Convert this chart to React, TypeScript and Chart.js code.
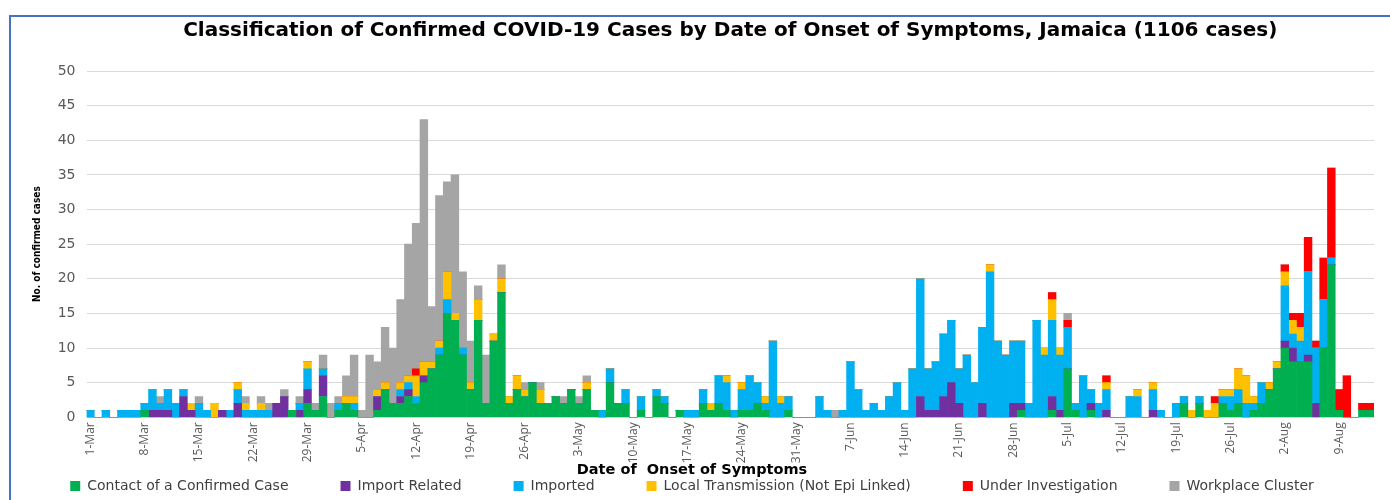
import { useEffect, useRef } from "react";
import { Chart, registerables } from "chart.js";

Chart.register(...registerables);

const DATES = [
  "1-Mar","2-Mar","3-Mar","4-Mar","5-Mar","6-Mar","7-Mar","8-Mar","9-Mar","10-Mar",
  "11-Mar","12-Mar","13-Mar","14-Mar","15-Mar","16-Mar","17-Mar","18-Mar","19-Mar","20-Mar",
  "21-Mar","22-Mar","23-Mar","24-Mar","25-Mar","26-Mar","27-Mar","28-Mar","29-Mar","30-Mar",
  "31-Mar","1-Apr","2-Apr","3-Apr","4-Apr","5-Apr","6-Apr","7-Apr","8-Apr","9-Apr",
  "10-Apr","11-Apr","12-Apr","13-Apr","14-Apr","15-Apr","16-Apr","17-Apr","18-Apr","19-Apr",
  "20-Apr","21-Apr","22-Apr","23-Apr","24-Apr","25-Apr","26-Apr","27-Apr","28-Apr","29-Apr",
  "30-Apr","1-May","2-May","3-May","4-May","5-May","6-May","7-May","8-May","9-May",
  "10-May","11-May","12-May","13-May","14-May","15-May","16-May","17-May","18-May","19-May",
  "20-May","21-May","22-May","23-May","24-May","25-May","26-May","27-May","28-May","29-May",
  "30-May","31-May","1-Jun","2-Jun","3-Jun","4-Jun","5-Jun","6-Jun","7-Jun","8-Jun",
  "9-Jun","10-Jun","11-Jun","12-Jun","13-Jun","14-Jun","15-Jun","16-Jun","17-Jun","18-Jun",
  "19-Jun","20-Jun","21-Jun","22-Jun","23-Jun","24-Jun","25-Jun","26-Jun","27-Jun","28-Jun",
  "29-Jun","30-Jun","1-Jul","2-Jul","3-Jul","4-Jul","5-Jul","6-Jul","7-Jul","8-Jul",
  "9-Jul","10-Jul","11-Jul","12-Jul","13-Jul","14-Jul","15-Jul","16-Jul","17-Jul","18-Jul",
  "19-Jul","20-Jul","21-Jul","22-Jul","23-Jul","24-Jul","25-Jul","26-Jul","27-Jul","28-Jul",
  "29-Jul","30-Jul","31-Jul","1-Aug","2-Aug","3-Aug","4-Aug","5-Aug","6-Aug","7-Aug",
  "8-Aug","9-Aug","10-Aug","11-Aug","12-Aug","13-Aug",
];

const TICK_LABELS = [
  "1-Mar","8-Mar","15-Mar","22-Mar","29-Mar","5-Apr","12-Apr","19-Apr","26-Apr",
  "3-May","10-May","17-May","24-May","31-May","7-Jun","14-Jun","21-Jun","28-Jun",
  "5-Jul","12-Jul","19-Jul","26-Jul","2-Aug","9-Aug",
];

const CONTACT = [
  0,0,0,0,0,0,0,1,0,0,
  0,0,0,0,0,0,0,0,0,0,
  0,0,0,0,0,0,1,0,2,1,
  3,0,1,2,1,0,0,1,4,2,
  2,3,2,5,7,9,15,14,9,4,
  14,2,11,18,2,4,3,5,2,2,
  3,2,4,2,4,1,0,5,2,2,
  0,1,0,3,2,0,1,0,0,2,
  1,2,1,0,1,1,2,1,0,0,
  1,0,0,0,0,0,0,0,0,0,
  0,0,0,0,0,0,0,0,0,0,
  0,0,0,0,0,0,0,0,0,0,
  1,0,0,0,1,0,7,1,0,1,
  0,0,0,0,0,0,0,0,0,0,
  0,2,0,2,0,0,2,1,2,0,
  1,2,4,7,10,8,8,8,0,10,
  22,1,0,0,1,1,
];

const IMPORT_RELATED = [
  0,0,0,0,0,0,0,0,1,1,
  1,0,3,1,0,0,0,1,0,2,
  0,0,0,0,2,3,0,1,2,0,
  3,0,0,0,0,0,0,2,0,0,
  1,1,0,1,0,0,0,0,0,0,
  0,0,0,0,0,0,0,0,0,0,
  0,0,0,0,0,0,0,0,0,0,
  0,0,0,0,0,0,0,0,0,0,
  0,0,0,0,0,0,0,0,0,0,
  0,0,0,0,0,0,0,0,0,0,
  0,0,0,0,0,0,0,3,1,1,
  3,5,2,0,0,2,0,0,0,2,
  1,0,0,0,2,1,0,0,0,1,
  0,1,0,0,0,0,0,1,0,0,
  0,0,0,0,0,0,0,0,0,0,
  0,0,0,0,1,2,0,1,2,0,
  0,0,0,0,0,0,
];

const IMPORTED = [
  1,0,1,0,1,1,1,1,3,1,
  3,2,1,0,2,1,0,0,1,2,
  1,1,1,1,0,0,0,1,3,0,
  1,0,1,0,1,0,0,0,0,0,
  1,1,1,0,0,1,2,0,1,0,
  0,0,0,0,0,0,0,0,0,0,
  0,0,0,0,0,0,1,2,0,2,
  0,2,0,1,1,0,0,1,1,2,
  0,4,4,1,3,5,3,1,11,2,
  2,0,0,0,3,1,0,1,8,4,
  1,2,1,3,5,1,7,17,6,7,
  9,9,5,9,5,11,21,11,9,9,
  9,2,14,9,11,8,6,1,6,2,
  2,3,0,0,3,3,0,3,1,0,
  2,1,0,1,0,0,1,2,2,2,
  1,3,0,0,8,2,3,12,8,7,
  1,0,0,0,0,0,
];

const LOCAL_TRANSMISSION = [
  0,0,0,0,0,0,0,0,0,0,
  0,0,0,1,0,0,2,0,0,1,
  1,0,1,0,0,0,0,0,1,0,
  0,0,0,1,1,0,0,1,1,0,
  1,1,3,2,1,1,4,1,0,1,
  3,0,1,2,1,2,1,0,2,0,
  0,0,0,0,1,0,0,0,0,0,
  0,0,0,0,0,0,0,0,0,0,
  1,0,1,0,1,0,0,1,0,1,
  0,0,0,0,0,0,0,0,0,0,
  0,0,0,0,0,0,0,0,0,0,
  0,0,0,0,0,0,1,0,0,0,
  0,0,0,1,3,1,0,0,0,0,
  0,1,0,0,0,1,0,1,0,0,
  0,0,1,0,1,2,1,1,3,4,
  1,0,1,1,2,2,2,0,0,0,
  0,0,0,0,0,0,
];

const UNDER_INVESTIGATION = [
  0,0,0,0,0,0,0,0,0,0,
  0,0,0,0,0,0,0,0,0,0,
  0,0,0,0,0,0,0,0,0,0,
  0,0,0,0,0,0,0,0,0,0,
  0,0,1,0,0,0,0,0,0,0,
  0,0,0,0,0,0,0,0,0,0,
  0,0,0,0,0,0,0,0,0,0,
  0,0,0,0,0,0,0,0,0,0,
  0,0,0,0,0,0,0,0,0,0,
  0,0,0,0,0,0,0,0,0,0,
  0,0,0,0,0,0,0,0,0,0,
  0,0,0,0,0,0,0,0,0,0,
  0,0,0,0,1,0,1,0,0,0,
  0,1,0,0,0,0,0,0,0,0,
  0,0,0,0,0,1,0,0,0,0,
  0,0,0,0,1,1,2,5,1,6,
  13,3,6,0,1,1,
];

const WORKPLACE_CLUSTER = [
  0,0,0,0,0,0,0,0,0,1,
  0,0,0,0,1,0,0,0,0,0,
  1,0,1,1,0,1,0,1,0,1,
  2,2,1,3,6,1,9,4,8,8,
  12,19,21,35,8,21,13,20,11,6,
  2,7,0,2,0,0,1,0,1,0,
  0,1,0,1,1,0,0,0,0,0,
  0,0,0,0,0,0,0,0,0,0,
  0,0,0,0,0,0,0,0,0,0,
  0,0,0,0,0,0,1,0,0,0,
  0,0,0,0,0,0,0,0,0,0,
  0,0,0,0,0,0,0,0,0,0,
  0,0,0,0,0,0,1,0,0,0,
  0,0,0,0,0,0,0,0,0,0,
  0,0,0,0,0,0,0,0,0,0,
  0,0,0,0,0,0,0,0,0,0,
  0,0,0,0,0,0,
];

const SERIES = [
  { label: "Contact of a Confirmed Case", data: CONTACT, color: "#00B050" },
  { label: "Import Related", data: IMPORT_RELATED, color: "#7030A0" },
  { label: "Imported", data: IMPORTED, color: "#00B0F0" },
  { label: "Local Transmission (Not Epi Linked)", data: LOCAL_TRANSMISSION, color: "#FFC000" },
  { label: "Under Investigation", data: UNDER_INVESTIGATION, color: "#FF0000" },
  { label: "Workplace Cluster", data: WORKPLACE_CLUSTER, color: "#A5A5A5" },
];

const TITLE = "Classification of Confirmed COVID-19 Cases by Date of Onset of Symptoms, Jamaica (1106 cases)";
const X_TITLE = "Date of  Onset of Symptoms";
const Y_TITLE = "No. of confirmed cases";

const X_TICK_FONT_SIZE = 12;
const X_TICK_LINE_HEIGHT = X_TICK_FONT_SIZE * 1.2;

export default function App() {
  const ref = useRef<HTMLCanvasElement>(null);

  useEffect(() => {
    document.body.style.margin = "0";
    document.body.style.overflow = "hidden";
    const canvas = ref.current;
    if (!canvas) return;
    const chart = new Chart(canvas, {
      type: "bar",
      data: {
        labels: DATES,
        datasets: SERIES.map((s) => ({
          label: s.label,
          data: s.data,
          backgroundColor: s.color,
          borderColor: s.color,
          borderWidth: 0,
          categoryPercentage: 1,
          barPercentage: 1,
          stack: "cases",
        })),
      },
      options: {
        animation: false,
        responsive: false,
        maintainAspectRatio: false,
        layout: { padding: { left: 10, right: 16, top: 0, bottom: -3 } },
        plugins: {
          tooltip: { enabled: false },
          title: {
            display: true,
            text: TITLE,
            fullSize: false,
            color: "#000000",
            font: { family: "DejaVu Sans", size: 20, weight: "bold" },
            padding: { top: 19, bottom: 28 },
          },
          subtitle: {
            display: true,
            position: "bottom",
            fullSize: true,
            weight: 500,
            text: X_TITLE,
            color: "#000000",
            font: { family: "DejaVu Sans", size: 14.5, weight: "bold" },
            padding: { top: 39.5, bottom: -52.2 },
          },
          legend: {
            display: true,
            position: "bottom",
            fullSize: true,
            labels: {
              boxWidth: 10,
              boxHeight: 10,
              padding: 52,
              color: "#404040",
              font: { family: "DejaVu Sans", size: 14 },
            },
          },
        },
        scales: {
          x: {
            stacked: true,
            offset: true,
            grid: { display: false, drawTicks: false },
            border: { display: false },
            ticks: {
              autoSkip: false,
              minRotation: 90,
              maxRotation: 90,
              mirror: true,
              padding: -5,
              labelOffset: X_TICK_LINE_HEIGHT,
              color: "#595959",
              font: { family: "Open Sans", size: X_TICK_FONT_SIZE },
              callback: (_v: any, i: number) => (TICK_LABELS.includes(DATES[i]) ? DATES[i] : ""),
            },
            afterFit: (s: any) => {
              s.height = 5;
              s.paddingLeft = 0;
              s.paddingRight = 0;
            },
          },
          y: {
            stacked: true,
            min: 0,
            max: 50,
            grid: { color: "#D9D9D9", lineWidth: 1, drawTicks: false },
            border: { display: false },
            ticks: {
              stepSize: 5,
              padding: 11,
              color: "#595959",
              font: { family: "DejaVu Sans", size: 14 },
            },
            title: {
              display: true,
              text: Y_TITLE,
              color: "#000000",
              font: { family: "'Liberation Sans Narrow', 'DejaVu Sans Condensed', 'Open Sans'", size: 10, weight: "bold" },
              padding: { top: 21, bottom: 0 },
            },
            afterFit: (s: any) => {
              s.width = 76.5;
              s.paddingTop = 0;
              s.paddingBottom = 0;
            },
          },
        },
      },
    });
    return () => chart.destroy();
  }, []);

  return (
    <div style={{ position: "relative", width: 1390, height: 500, overflow: "hidden" }}>
      <canvas ref={ref} width={1390} height={500} style={{ display: "block", width: 1390, height: 500 }} />
      <div
        style={{
          position: "absolute",
          left: 9,
          top: 15,
          right: 0,
          bottom: 0,
          borderLeft: "2px solid #4472C4",
          borderTop: "2px solid #4472C4",
          pointerEvents: "none",
        }}
      />
    </div>
  );
}
